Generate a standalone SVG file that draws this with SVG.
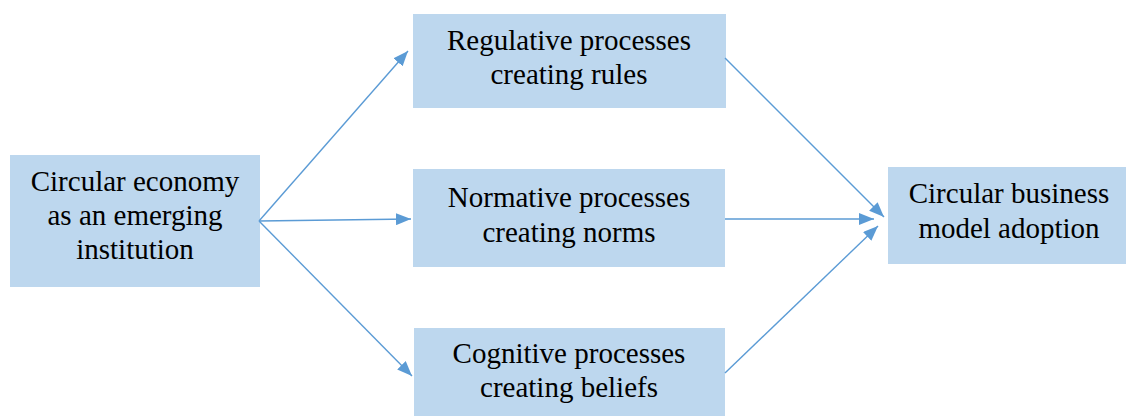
<svg xmlns="http://www.w3.org/2000/svg" width="1126" height="416" viewBox="0 0 1126 416">
<style>
.box{fill:#BDD7EE;}
.t{font-family:"Liberation Serif","Times New Roman",serif;font-size:29px;fill:#000;text-anchor:middle;}
.c{stroke:#5B9BD5;stroke-width:1.4;fill:none;}
</style>
<defs>
<marker id="ah" markerUnits="userSpaceOnUse" markerWidth="16" markerHeight="12" refX="15" refY="6" orient="auto">
<path d="M0,0 L15,6 L0,12 z" fill="#5B9BD5"/>
</marker>
</defs>
<rect width="1126" height="416" fill="#fff"/>
<g id="n-ce">
<rect class="box" x="10" y="155" width="250" height="132"/>
<text class="t" x="135" y="191">Circular economy</text>
<text class="t" x="135" y="225">as an emerging</text>
<text class="t" x="135" y="259">institution</text>
</g>
<g id="n-reg">
<rect class="box" x="413" y="14" width="313" height="94"/>
<text class="t" x="569" y="50">Regulative processes</text>
<text class="t" x="569" y="84">creating rules</text>
</g>
<g id="n-norm">
<rect class="box" x="413" y="169" width="312" height="98"/>
<text class="t" x="569" y="207">Normative processes</text>
<text class="t" x="569" y="242">creating norms</text>
</g>
<g id="n-cog">
<rect class="box" x="414" y="328" width="311" height="88"/>
<text class="t" x="569" y="363">Cognitive processes</text>
<text class="t" x="569" y="397">creating beliefs</text>
</g>
<g id="n-cbm">
<rect class="box" x="888" y="167" width="238" height="97"/>
<text class="t" x="1009" y="203">Circular business</text>
<text class="t" x="1009" y="238">model adoption</text>
</g>
<g id="connectors">
<line class="c" x1="259" y1="221" x2="408" y2="51" marker-end="url(#ah)"/>
<line class="c" x1="259" y1="221" x2="411" y2="219" marker-end="url(#ah)"/>
<line class="c" x1="259" y1="221" x2="412" y2="376" marker-end="url(#ah)"/>
<line class="c" x1="725" y1="58" x2="884" y2="217" marker-end="url(#ah)"/>
<line class="c" x1="725" y1="219" x2="874" y2="219" marker-end="url(#ah)"/>
<line class="c" x1="725" y1="373" x2="878" y2="226" marker-end="url(#ah)"/>
</g>
</svg>
